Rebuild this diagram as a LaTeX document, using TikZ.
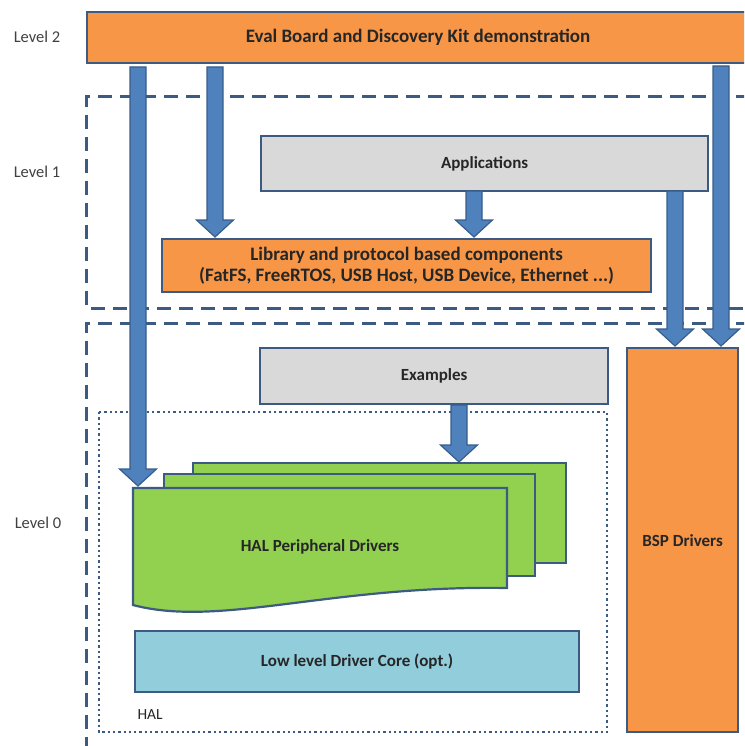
\documentclass[tikz,border=0pt]{standalone}
\usepackage{fontspec}
\setmainfont{Carlito}
\usetikzlibrary{calc}
\definecolor{orng}{HTML}{F79646}
\definecolor{grayf}{HTML}{D9D9D9}
\definecolor{greenf}{HTML}{92D050}
\definecolor{bluef}{HTML}{92CDDC}
\definecolor{edge}{HTML}{3C5A82}
\definecolor{arrf}{HTML}{4F81BD}
\definecolor{arre}{HTML}{385D8A}
\definecolor{txt}{HTML}{262626}
\newcommand\blkarrow[2]{%
  \draw[arrowst] let \p1=(#1), \p2=(#2) in
    (\x1-8pt,\y1) -- (\x1+8pt,\y1) -- (\x1+8pt,\y2+17pt) -- (\x1+18.5pt,\y2+17pt)
    -- (\x2,\y2) -- (\x1-18.5pt,\y2+17pt) -- (\x1-8pt,\y2+17pt) -- cycle;}
\begin{document}
\begin{tikzpicture}[x=1pt,y=-1pt,
  box/.style={draw=edge,line width=2.2pt,anchor=north west,inner sep=0pt,
    font=\bfseries\fontsize{17}{20}\selectfont,text=txt,align=center},
  obox/.style={box,fill=orng},
  gbox/.style={box,fill=grayf},
  arrowst/.style={fill=arrf,draw=arre,line width=1.2pt,line join=miter},
  lvl/.style={font=\fontsize{16.5}{19}\selectfont,text=black!75},
  dsh/.style={draw=edge,line width=3pt,dash pattern=on 14pt off 8pt},
  dtt/.style={draw=edge,line width=2.3pt,dash pattern=on 2.3pt off 3pt},
  page/.style={fill=greenf,draw=edge,line width=2.2pt,line join=miter}]
\useasboundingbox (0,0) rectangle (744,746);
\clip (0,0) rectangle (744,746);

% level frames
\path[dsh] (750,97) -- (86,97) -- (86,308) -- (750,308);
\path[dsh] (750,323) -- (86,323) -- (86,760);
\path[dtt] (99,412) rectangle (607,732);

% level labels
\node[lvl] (l2) at (37,37) {Level 2};
\node[lvl] (l1) at (37,172) {Level 1};
\node[lvl] (l0) at (38,523) {Level 0};

% boxes
\node[obox,minimum width=670pt,minimum height=51pt] (top) at (86,11) {};
\node[font=\bfseries\fontsize{19}{22}\selectfont,text=txt] (toptxt) at (418,37) {Eval Board and Discovery Kit demonstration};
\node[gbox,minimum width=447pt,minimum height=55pt] (app) at (260,135) {Applications};
\node[obox,minimum width=489pt,minimum height=53pt,font=\bfseries\fontsize{19}{21}\selectfont] (lib) at (161,238)
  {Library and protocol based components\\(FatFS, FreeRTOS, USB Host, USB Device, Ethernet ...)};
\node[gbox,minimum width=348pt,minimum height=56pt] (ex) at (259,347) {Examples};
\node[obox,minimum width=111pt,minimum height=384pt] (bsp) at (626,347) {BSP Drivers};
\node[box,fill=bluef,minimum width=444pt,minimum height=61pt] (ll) at (134,630) {Low level Driver Core (opt.)};
\node[font=\fontsize{15.5}{18}\selectfont,anchor=west,text=txt] (hal) at (134,715) {HAL};

% HAL peripheral pages
\draw[page] (193,463) rectangle (566,563);
\draw[page] (164,474) rectangle (535,576);
\draw[page] (133,488) -- (507,488) -- (507,588) .. controls (330,585) and (220,628) .. (133,605) -- cycle;
\node[font=\bfseries\fontsize{17}{20}\selectfont,text=txt] (per) at (320,547) {HAL Peripheral Drivers};

% arrow end points
\coordinate (a1) at (138,67);  \coordinate (a1t) at (138,486);
\coordinate (a2) at (215,67);  \coordinate (a2t) at (215,237);
\coordinate (a3) at (721,66);  \coordinate (a3t) at (721,346);
\coordinate (a4) at (675,191); \coordinate (a4t) at (675,346);
\coordinate (a5) at (474,191); \coordinate (a5t) at (474,237);
\coordinate (a6) at (459,405); \coordinate (a6t) at (459,462);
\blkarrow{a1}{a1t}
\blkarrow{a2}{a2t}
\blkarrow{a3}{a3t}
\blkarrow{a4}{a4t}
\blkarrow{a5}{a5t}
\blkarrow{a6}{a6t}
\end{tikzpicture}
\end{document}
